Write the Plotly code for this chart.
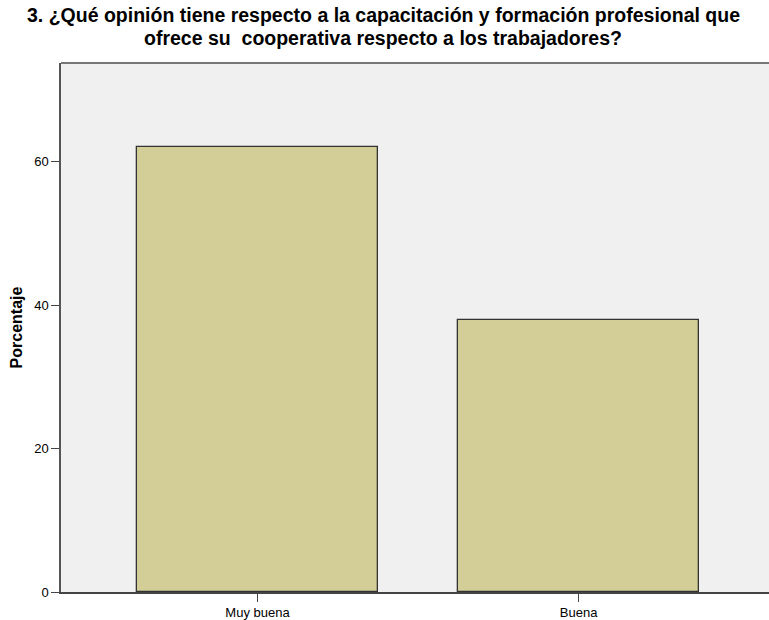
import plotly.graph_objects as go

categories = ["Muy buena", "Buena"]
percentages = [62.1, 37.9]
y_ticks = [0, 20, 40, 60]

title_lines = [
    "<b>3. ¿Qué opinión tiene respecto a la capacitación y formación profesional que</b>",
    "<b>ofrece su  cooperativa respecto a los trabajadores?</b>",
]

font_family = "Liberation Sans, Arial, sans-serif"

fig = go.Figure()

fig.add_trace(
    go.Bar(
        x=[0, 1],
        y=percentages,
        width=0.751,
        marker=dict(color="#D3CE97", line=dict(color="#333333", width=1.3)),
        showlegend=False,
    )
)

fig.update_layout(
    width=769,
    height=620,
    margin=dict(l=61, r=0, t=63, b=28),
    plot_bgcolor="#F0F0F0",
    paper_bgcolor="white",
    font=dict(family=font_family, size=13, color="black"),
    bargap=0,
)

# title drawn as two annotations to keep the tight line spacing
for line, ypix in zip(title_lines, [15, 38]):
    fig.add_annotation(
        text=line,
        xref="paper", yref="paper",
        x=0.455, y=(592 - ypix) / 529,
        xanchor="center", yanchor="middle",
        showarrow=False,
        borderpad=0,
        font=dict(family=font_family, size=19.5, color="black"),
    )

fig.update_xaxes(
    range=[-0.612, 1.593],
    tickvals=[0, 1],
    ticktext=categories,
    showgrid=False,
    zeroline=False,
    showline=True,
    linecolor="#444444",
    linewidth=1.5,
    ticks="outside",
    ticklen=8,
    tickcolor="#444444",
    tickfont=dict(size=13),
)

fig.update_yaxes(
    range=[0, 73.8],
    tickvals=y_ticks,
    showgrid=False,
    zeroline=False,
    showline=True,
    linecolor="#555555",
    linewidth=1.5,
    ticks="outside",
    ticklen=8,
    tickcolor="#444444",
    tickfont=dict(size=13),
    title=dict(
        text="<b>Porcentaje</b>",
        font=dict(family=font_family, size=16),
        standoff=8,
    ),
)

# top border of the plot area
fig.add_shape(
    type="line", xref="paper", yref="paper",
    x0=0, x1=1, y0=1, y1=1,
    line=dict(color="#777777", width=2),
)

fig.write_html(
    "out.html",
    config={"displayModeBar": False},
    post_script="document.body.style.margin='0';",
)
